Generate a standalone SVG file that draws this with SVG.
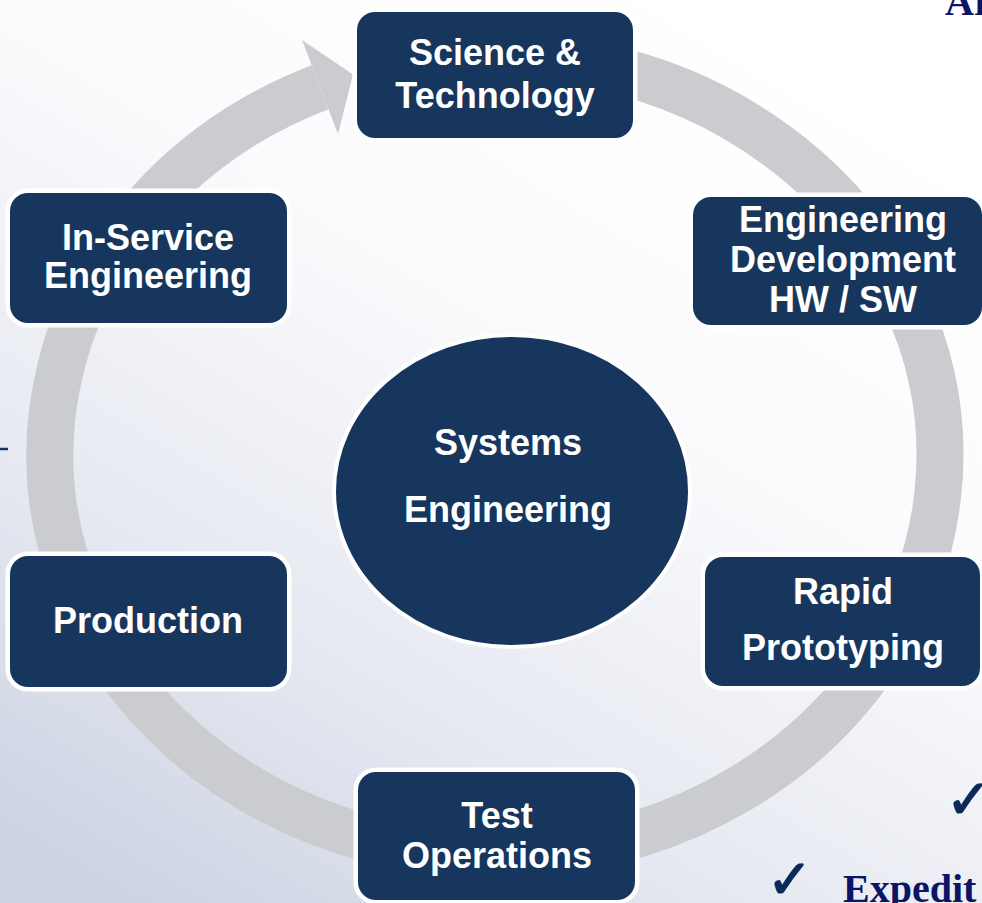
<svg xmlns="http://www.w3.org/2000/svg" width="982" height="903" viewBox="0 0 982 903">
<defs>
<linearGradient id="bg" x1="0.75" y1="0" x2="0.1" y2="1">
<stop offset="0" stop-color="#ffffff"/>
<stop offset="0.35" stop-color="#fbfbfd"/>
<stop offset="0.7" stop-color="#e6e9f1"/>
<stop offset="1" stop-color="#cbd2e2"/>
</linearGradient>
<style>
.box{fill:#17365d;stroke:#ffffff;stroke-width:9;paint-order:stroke}
.lbl{font-family:"Liberation Sans",Arial,sans-serif;font-weight:bold;font-size:36px;fill:#ffffff;text-anchor:middle}
.side{font-family:"Liberation Serif","Times New Roman",serif;font-weight:bold;fill:#0b1566}
.chk{font-family:"DejaVu Sans",sans-serif;fill:#0b2a5a;stroke:#0b2a5a;stroke-width:1.5}
</style>
</defs>
<rect x="0" y="0" width="982" height="903" fill="url(#bg)"/>
<g id="side-text">
<text class="side" x="945" y="15" font-size="40">Ar</text>
<text class="chk" x="868" y="4" font-size="54">✓</text>
<text class="chk" x="946" y="818" font-size="54">✓</text>
<text class="chk" x="767" y="898" font-size="54">✓</text>
<text class="side" x="843" y="902" font-size="40">Expedit</text>
<line x1="0" y1="449" x2="8" y2="449" stroke="#17365d" stroke-width="2.5"/>
</g>
<g id="connectors">
<path d="M 600 66.3 A 445 400 0 1 1 320 87.2" fill="none" stroke="#cbccd0" stroke-width="47"/>
<polygon points="302,40 353,74.5 338,134" fill="#cbccd0"/>
</g>
<g id="science-technology">
<rect class="box" x="357" y="12" width="276" height="126" rx="18"/>
<text class="lbl" x="495" y="65">Science &amp;</text>
<text class="lbl" x="495" y="108">Technology</text>
</g>
<g id="in-service-engineering">
<rect class="box" x="10" y="193" width="277" height="130" rx="18"/>
<text class="lbl" x="148" y="250">In-Service</text>
<text class="lbl" x="148" y="288">Engineering</text>
</g>
<g id="engineering-development">
<rect class="box" x="693" y="197" width="289" height="128" rx="18"/>
<text class="lbl" x="843" y="232">Engineering</text>
<text class="lbl" x="843" y="272">Development</text>
<text class="lbl" x="843" y="312">HW / SW</text>
</g>
<g id="systems-engineering">
<ellipse cx="512" cy="491" rx="178" ry="156" fill="#17365d" stroke="#ffffff" stroke-width="4"/>
<text class="lbl" x="508" y="455">Systems</text>
<text class="lbl" x="508" y="522">Engineering</text>
</g>
<g id="production">
<rect class="box" x="10" y="556" width="277" height="131" rx="18"/>
<text class="lbl" x="148" y="633">Production</text>
</g>
<g id="rapid-prototyping">
<rect class="box" x="705" y="557" width="275" height="129" rx="18"/>
<text class="lbl" x="843" y="604">Rapid</text>
<text class="lbl" x="843" y="660">Prototyping</text>
</g>
<g id="test-operations">
<rect class="box" x="358" y="772" width="277" height="128" rx="18"/>
<text class="lbl" x="497" y="828">Test</text>
<text class="lbl" x="497" y="868">Operations</text>
</g>
</svg>
